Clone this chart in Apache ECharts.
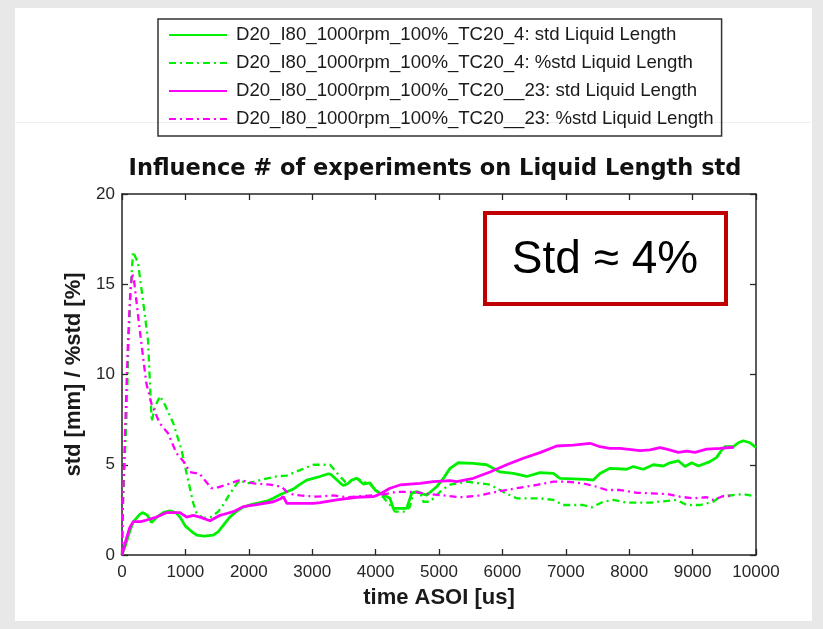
<!DOCTYPE html>
<html>
<head>
<meta charset="utf-8">
<title>Influence # of experiments on Liquid Length std</title>
<script src="https://cdn.jsdelivr.net/npm/echarts@6/dist/echarts.min.js"></script>
<style>
  html, body { margin: 0; padding: 0; background: #e8e8e8; }
  #chart { width: 823px; height: 629px; }
</style>
</head>
<body>
<div id="chart"></div>
<script>
// Series names (legend entries)
const seriesNames = [
  'D20_I80_1000rpm_100%_TC20_4: std Liquid Length',
  'D20_I80_1000rpm_100%_TC20_4: %std Liquid Length',
  'D20_I80_1000rpm_100%_TC20__23: std Liquid Length',
  'D20_I80_1000rpm_100%_TC20__23: %std Liquid Length'
];

// TC20_4, std [mm]
const timeStd4 = [0, 60, 120, 180, 280, 330, 400, 468, 550, 650, 757, 850, 915, 1000, 1100, 1178, 1300, 1440, 1520, 1600, 1700, 1800, 1913, 2050, 2177, 2300, 2387, 2500, 2600, 2703, 2800, 2913, 3018, 3123, 3254, 3300, 3438, 3491, 3560, 3623, 3702, 3807, 3912, 3991, 4069, 4227, 4279, 4490, 4569, 4648, 4806, 4963, 5080, 5174, 5305, 5541, 5752, 5962, 6172, 6383, 6593, 6803, 6909, 7329, 7434, 7539, 7697, 7960, 8065, 8223, 8380, 8538, 8644, 8775, 8880, 8986, 9091, 9274, 9380, 9459, 9511, 9643, 9722, 9800, 9905, 10000];
const valStd4 = [0, 0.6, 1.3, 1.85, 2.25, 2.35, 2.2, 1.8, 2.1, 2.35, 2.45, 2.35, 2.1, 1.6, 1.3, 1.1, 1.05, 1.1, 1.3, 1.65, 2.1, 2.4, 2.65, 2.8, 2.9, 3.0, 3.15, 3.35, 3.5, 3.65, 3.9, 4.15, 4.25, 4.35, 4.5, 4.45, 4.0, 3.85, 3.95, 4.15, 4.25, 3.93, 4.0, 3.6, 3.42, 3.14, 2.58, 2.58, 3.42, 3.5, 3.32, 3.78, 4.3, 4.8, 5.11, 5.08, 5.0, 4.6, 4.52, 4.35, 4.56, 4.52, 4.25, 4.19, 4.15, 4.52, 4.8, 4.75, 4.9, 4.75, 5.0, 4.93, 5.11, 5.22, 4.9, 5.11, 4.93, 5.17, 5.41, 5.82, 6.0, 6.0, 6.22, 6.33, 6.22, 5.95];

// TC20_4, %std [%]
const timePct4 = [0, 16, 68, 105, 137, 174, 252, 331, 410, 436, 468, 520, 599, 680, 809, 941, 1020, 1125, 1178, 1280, 1400, 1519, 1600, 1703, 1800, 1861, 1967, 2177, 2300, 2440, 2597, 2700, 2808, 3018, 3281, 3438, 3544, 3702, 3912, 4069, 4227, 4306, 4464, 4543, 4596, 4700, 4754, 4858, 5016, 5121, 5174, 5437, 5804, 6067, 6225, 6593, 6803, 6960, 7276, 7408, 7592, 7750, 7960, 8328, 8749, 8907, 9117, 9327, 9432, 9642, 9800, 10000];
const valPct4 = [0, 3.0, 7.3, 11.9, 14.7, 16.8, 16.2, 14.1, 11.9, 9.9, 7.4, 8.2, 8.8, 8.3, 7.3, 5.8, 4.5, 2.86, 2.3, 2.05, 2.1, 2.4, 2.8, 3.4, 3.9, 4.15, 3.95, 4.15, 4.25, 4.35, 4.4, 4.55, 4.7, 5.0, 5.0, 4.35, 3.97, 4.25, 3.9, 3.4, 2.77, 2.4, 2.4, 2.68, 3.5, 3.5, 2.95, 2.95, 3.5, 3.78, 3.9, 4.06, 3.9, 3.4, 3.14, 3.14, 3.05, 2.77, 2.77, 2.64, 2.95, 3.05, 2.9, 2.9, 3.05, 2.77, 2.77, 2.95, 3.23, 3.32, 3.38, 3.23];

// TC20__23, std [mm]
const timeStd23 = [0, 60, 120, 178, 300, 389, 547, 705, 915, 1020, 1125, 1230, 1388, 1546, 1651, 1756, 1913, 2177, 2387, 2492, 2544, 2600, 3018, 3123, 3386, 3702, 3964, 4069, 4227, 4385, 4700, 4910, 5174, 5279, 5541, 5804, 6067, 6330, 6593, 6856, 7118, 7382, 7539, 7697, 7855, 8170, 8328, 8486, 8591, 8775, 8907, 9038, 9222, 9432, 9650];
const valStd23 = [0, 0.8, 1.5, 1.85, 1.85, 1.94, 2.1, 2.35, 2.35, 2.1, 2.2, 2.1, 1.9, 2.2, 2.3, 2.4, 2.68, 2.82, 2.95, 3.1, 3.23, 2.86, 2.86, 2.9, 3.05, 3.2, 3.23, 3.38, 3.7, 3.88, 3.97, 4.06, 4.12, 4.06, 4.25, 4.6, 5.0, 5.36, 5.67, 6.04, 6.09, 6.19, 6.0, 5.91, 5.91, 5.78, 5.82, 5.95, 5.86, 5.69, 5.76, 5.69, 5.86, 5.91, 5.97];

// TC20__23, %std [%]
const timePct23 = [0, 16, 52, 95, 130, 160, 190, 226, 279, 331, 384, 463, 594, 726, 857, 989, 1067, 1225, 1304, 1409, 1514, 1651, 1861, 2071, 2334, 2518, 2600, 2700, 2808, 3071, 3333, 3565, 3807, 4069, 4333, 4596, 4858, 5016, 5331, 5594, 5910, 6225, 6541, 6803, 7014, 7276, 7487, 7645, 7855, 8118, 8591, 8801, 9011, 9222, 9327, 9485, 9650];
const valPct23 = [0, 3.0, 7.3, 11.9, 14.5, 15.6, 15.2, 14.1, 12.5, 11.0, 9.5, 8.4, 7.3, 6.75, 5.65, 5.1, 4.6, 4.5, 4.15, 3.7, 3.75, 3.9, 4.15, 3.97, 3.9, 3.78, 3.5, 3.35, 3.3, 3.23, 3.3, 3.2, 3.27, 3.32, 3.5, 3.5, 3.38, 3.32, 3.2, 3.27, 3.5, 3.7, 3.88, 4.06, 4.06, 3.97, 3.78, 3.6, 3.6, 3.45, 3.38, 3.23, 3.14, 3.2, 3.05, 3.27, 3.27];

// Axis ranges and tick steps
const xRange = [0, 10000], xStep = 1000;
const yRange = [0, 20], yStep = 5;

const titleText = 'Influence # of experiments on Liquid Length std';
const xName = 'time ASOI [us]';
const yName = 'std [mm] / %std [%]';
const noteText = 'Std \u2248 4%';

const GREEN = '#00f000';
const MAGENTA = '#ff00ff';
const AXIS = '#262626';
const DASH_DOT = [7, 4, 2, 4];
const FONT = '"Liberation Sans", Arial, Helvetica, sans-serif';

function pairs(ts, vs) { return ts.map((t, i) => [t, vs[i]]); }

function lineSeries(name, ts, vs, color, dashed) {
  return {
    name: name,
    type: 'line',
    data: pairs(ts, vs),
    showSymbol: false,
    symbol: 'none',
    animation: false,
    itemStyle: { color: color },
    lineStyle: { color: color, width: dashed ? 2.3 : 2.8, type: dashed ? DASH_DOT : 'solid' },
    z: 3
  };
}

// plain integer tick labels, no thousands separator
const plainLabel = v => String(Math.round(v));

const baseAxis = {
  axisLine: { show: true, onZero: false, lineStyle: { color: AXIS, width: 1.5 } },
  axisTick: { show: true, inside: true, length: 6, lineStyle: { color: AXIS, width: 1.3 } },
  splitLine: { show: false }
};

const chart = echarts.init(document.getElementById('chart'), null, { renderer: 'canvas' });

chart.setOption({
  backgroundColor: '#e8e8e8',
  animation: false,
  title: {
    text: titleText,
    left: 435,
    top: 158,
    padding: 0,
    textAlign: 'center',
    textStyle: { fontFamily: '"DejaVu Sans", sans-serif', fontWeight: 'bold', fontSize: 22.5, color: '#111' }
  },
  legend: {
    data: seriesNames,
    orient: 'vertical',
    left: 158,
    top: 19,
    padding: [6, 8, 7, 10],
    itemGap: 8,
    itemWidth: 58,
    itemHeight: 20,
    borderColor: '#333',
    borderWidth: 1.5,
    backgroundColor: 'transparent',
    selectedMode: false,
    itemStyle: { opacity: 0 },
    textStyle: { fontFamily: FONT, fontSize: 18.6, color: '#1a1a1a', lineHeight: 20, padding: [0, 0, 0, 4] }
  },
  grid: { left: 122, right: 67, top: 194, bottom: 74 },
  xAxis: [
    Object.assign({}, baseAxis, {
      type: 'value', position: 'bottom', min: xRange[0], max: xRange[1], interval: xStep,
      name: xName, nameLocation: 'middle', nameGap: 32,
      nameTextStyle: { fontFamily: FONT, fontWeight: 'bold', fontSize: 22, color: '#1a1a1a' },
      axisLabel: { fontFamily: FONT, fontSize: 17, color: AXIS, margin: 9, formatter: plainLabel }
    }),
    Object.assign({}, baseAxis, {
      type: 'value', position: 'top', min: xRange[0], max: xRange[1], interval: xStep,
      axisLabel: { show: false }
    })
  ],
  yAxis: [
    Object.assign({}, baseAxis, {
      type: 'value', position: 'left', min: yRange[0], max: yRange[1], interval: yStep,
      name: yName, nameLocation: 'middle', nameGap: 37,
      nameTextStyle: { fontFamily: FONT, fontWeight: 'bold', fontSize: 22, color: '#1a1a1a' },
      axisLabel: { fontFamily: FONT, fontSize: 17, color: AXIS, margin: 7, formatter: plainLabel }
    }),
    Object.assign({}, baseAxis, {
      type: 'value', position: 'right', min: yRange[0], max: yRange[1], interval: yStep,
      axisLabel: { show: false }
    })
  ],
  series: [
    lineSeries(seriesNames[0], timeStd4, valStd4, GREEN, false),
    lineSeries(seriesNames[1], timePct4, valPct4, GREEN, true),
    lineSeries(seriesNames[2], timeStd23, valStd23, MAGENTA, false),
    lineSeries(seriesNames[3], timePct23, valPct23, MAGENTA, true)
  ],
  graphic: [
    { type: 'rect', z: -10, silent: true, shape: { x: 15, y: 8, width: 797, height: 613 }, style: { fill: '#ffffff' } },
    { type: 'line', z: -9, silent: true, shape: { x1: 15, y1: 122.5, x2: 811, y2: 122.5 }, style: { stroke: '#efefef', lineWidth: 1 } },
    { type: 'rect', z: 10, silent: true, shape: { x: 485, y: 213, width: 241, height: 91 },
      style: { fill: '#ffffff', stroke: '#c00000', lineWidth: 4 } },
    { type: 'text', z: 11, silent: true, x: 605, y: 260,
      style: { text: noteText, fill: '#000', font: '46px ' + FONT, textAlign: 'center', textVerticalAlign: 'middle' } }
  ]
});
</script>
</body>
</html>
